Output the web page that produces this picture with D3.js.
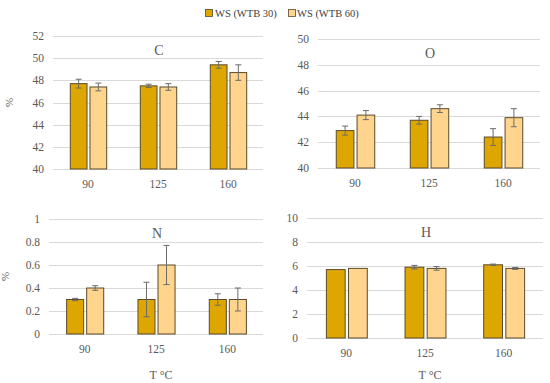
<!DOCTYPE html>
<html>
<head>
<meta charset="utf-8">
<script src="https://cdn.jsdelivr.net/npm/d3@7"></script>
<style>
  body { margin: 0; background: #fff; }
  svg text { font-family: "Liberation Serif", "DejaVu Serif", serif; fill: #595959; }
</style>
</head>
<body>
<svg id="chart" width="550" height="383"></svg>
<script>
const temps = ['90', '125', '160'];
const seriesNames = ['WS (WTB 30)', 'WS (WTB 60)'];
const seriesColors = ['#DEA600', '#FFD48C'];

// element values (%) and std dev, per temperature
const cWtb30 = [47.7, 47.5, 49.4], cWtb30Err = [0.4, 0.15, 0.3];
const cWtb60 = [47.4, 47.4, 48.7], cWtb60Err = [0.35, 0.3, 0.7];
const oWtb30 = [42.9, 43.7, 42.4], oWtb30Err = [0.35, 0.3, 0.65];
const oWtb60 = [44.1, 44.6, 43.9], oWtb60Err = [0.35, 0.3, 0.7];
const nWtb30 = [0.3, 0.3, 0.3], nWtb30Err = [0.01, 0.15, 0.05];
const nWtb60 = [0.4, 0.6, 0.3], nWtb60Err = [0.02, 0.17, 0.1];
const hWtb30 = [5.7, 5.9, 6.1], hWtb30Err = [0, 0.15, 0.06];
const hWtb60 = [5.8, 5.8, 5.8], hWtb60Err = [0, 0.15, 0.08];

const cTicks = [40, 42, 44, 46, 48, 50, 52];
const oTicks = [40, 42, 44, 46, 48, 50];
const nTicks = [0, 0.2, 0.4, 0.6, 0.8, 1];
const hTicks = [0, 2, 4, 6, 8, 10];

const panels = [
  { title: 'C', vals: [cWtb30, cWtb60], errs: [cWtb30Err, cWtb60Err], ticks: cTicks,
    x0: 53, x1: 263, yTop: 36, yBot: 169, pct: true, tLabel: false },
  { title: 'O', vals: [oWtb30, oWtb60], errs: [oWtb30Err, oWtb60Err], ticks: oTicks,
    x0: 318, x1: 540, yTop: 39, yBot: 168, pct: false, tLabel: false },
  { title: 'N', vals: [nWtb30, nWtb60], errs: [nWtb30Err, nWtb60Err], ticks: nTicks,
    x0: 49, x1: 263, yTop: 219, yBot: 334, pct: true, tLabel: true },
  { title: 'H', vals: [hWtb30, hWtb60], errs: [hWtb30Err, hWtb60Err], ticks: hTicks,
    x0: 307, x1: 543, yTop: 218, yBot: 338, pct: false, tLabel: true }
];

const svg = d3.select('#chart');

// legend
const legend = svg.append('g');
[[205, 215], [288, 297]].forEach((pos, i) => {
  legend.append('rect')
    .attr('x', pos[0] + 0.5).attr('y', 9.5)
    .attr('width', 7).attr('height', 7)
    .attr('fill', seriesColors[i])
    .attr('stroke', '#5b4a2b').attr('stroke-width', 0.8);
  legend.append('text')
    .attr('x', pos[1]).attr('y', 16.5)
    .style('font-size', '10.5px')
    .style('fill', '#404040')
    .text(seriesNames[i]);
});

panels.forEach(p => {
  const g = svg.append('g');
  const ext = d3.extent(p.ticks);
  const y = d3.scaleLinear().domain(ext).range([p.yBot, p.yTop]);
  const x = d3.scaleBand().domain(temps).range([p.x0, p.x1])
    .paddingInner(0.48).paddingOuter(0.24);
  const xs = d3.scaleBand().domain([0, 1]).range([0, x.bandwidth()]).paddingInner(0.15);

  // gridlines
  g.selectAll('.grid').data(p.ticks).enter().append('line')
    .attr('x1', p.x0).attr('x2', p.x1)
    .attr('y1', d => Math.round(y(d)) + 0.5).attr('y2', d => Math.round(y(d)) + 0.5)
    .attr('stroke', '#d9d9d9').attr('stroke-width', 1);

  // y tick labels
  g.selectAll('.ytl').data(p.ticks).enter().append('text')
    .attr('x', p.x0 - 9).attr('y', d => y(d) + 4)
    .attr('text-anchor', 'end')
    .style('font-size', '11.5px')
    .text(d => d);

  // x tick labels
  g.selectAll('.xtl').data(temps).enter().append('text')
    .attr('x', d => x(d) + x.bandwidth() / 2)
    .attr('y', p.yBot + 19)
    .attr('text-anchor', 'middle')
    .style('font-size', '11.5px')
    .text(d => d);

  // bars
  p.vals.forEach((series, si) => {
    g.selectAll('.bar' + si).data(series).enter().append('rect')
      .attr('x', (d, i) => x(temps[i]) + xs(si) + 0.5)
      .attr('y', d => y(d))
      .attr('width', xs.bandwidth())
      .attr('height', d => p.yBot - y(d))
      .attr('fill', seriesColors[si])
      .attr('stroke', '#5b4a2b').attr('stroke-width', 1);
  });

  // error bars
  p.vals.forEach((series, si) => {
    series.forEach((v, i) => {
      const e = p.errs[si][i];
      if (!e) return;
      const cx = x(temps[i]) + xs(si) + xs.bandwidth() / 2 + 0.5;
      const eg = g.append('g').attr('stroke', '#6b6b6b').attr('stroke-width', 1);
      eg.append('line').attr('x1', cx).attr('x2', cx).attr('y1', y(v + e)).attr('y2', y(v - e));
      eg.append('line').attr('x1', cx - 3).attr('x2', cx + 3).attr('y1', y(v + e)).attr('y2', y(v + e));
      eg.append('line').attr('x1', cx - 3).attr('x2', cx + 3).attr('y1', y(v - e)).attr('y2', y(v - e));
    });
  });

  // title
  g.append('text')
    .attr('x', (p.x0 + p.x1) / 2 + 1)
    .attr('y', p.yTop + 19)
    .attr('text-anchor', 'middle')
    .style('font-size', '14px')
    .text(p.title);

  if (p.pct) {
    g.append('text')
      .attr('transform', `translate(${p.x0 - 40}, ${(p.yTop + p.yBot) / 2}) rotate(-90)`)
      .attr('text-anchor', 'middle')
      .style('font-size', '11px')
      .text('%');
  }
  if (p.tLabel) {
    g.append('text')
      .attr('x', (p.x0 + p.x1) / 2 + 5)
      .attr('y', 379)
      .attr('text-anchor', 'middle')
      .style('font-size', '12px')
      .text('T °C');
  }
});
</script>
</body>
</html>
